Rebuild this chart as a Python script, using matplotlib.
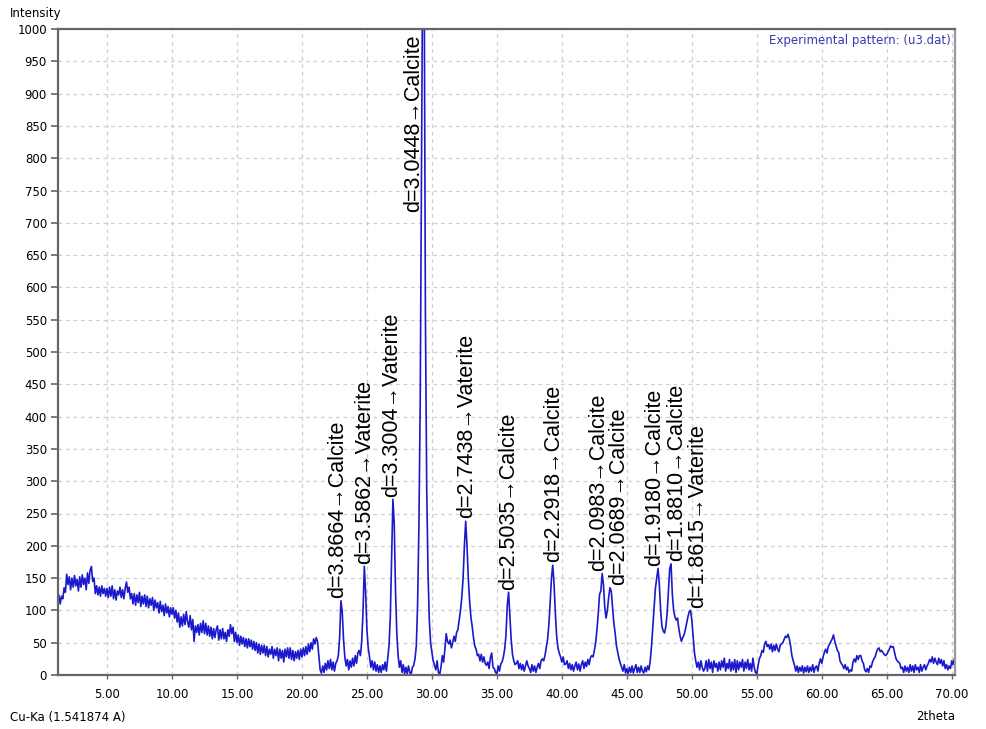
import numpy as np
import matplotlib
matplotlib.use("Agg")
from matplotlib import pyplot as plt

# 扫描起点和步长 (2theta)
start_2theta = 1.0
step_2theta = 0.1

# 强度, 每行 10 个点 = 1 度
intensity = [
    108, 120, 112, 124, 110, 122, 118, 135, 128, 156,   # 1
    140, 152, 132, 150, 136, 154, 138, 148, 130, 152,   # 2
    136, 155, 140, 150, 132, 158, 142, 162, 168, 145,   # 3
    150, 126, 138, 124, 136, 122, 138, 126, 134, 122,   # 4
    134, 120, 136, 122, 138, 118, 132, 116, 130, 124,   # 5
    136, 120, 132, 118, 134, 144, 128, 136, 118, 126,   # 6
    110, 126, 108, 124, 112, 128, 106, 122, 110, 124,   # 7
    106, 122, 104, 118, 108, 120, 100, 116, 104, 112,   # 8
    96, 114, 98, 108, 92, 110, 96, 106, 90, 104,        # 9
    94, 104, 88, 100, 82, 96, 74, 90, 76, 94,           # 10
    78, 98, 82, 74, 92, 70, 86, 52, 76, 66,             # 11
    78, 62, 80, 66, 84, 64, 80, 62, 76, 60,             # 12
    74, 56, 72, 58, 70, 76, 54, 70, 56, 72,             # 13
    56, 66, 52, 70, 60, 78, 64, 74, 52, 66,             # 14
    50, 62, 46, 60, 48, 58, 44, 56, 42, 56,             # 15
    44, 54, 40, 52, 38, 50, 34, 48, 32, 46,             # 16
    34, 46, 30, 44, 28, 40, 32, 44, 26, 40,             # 17
    30, 42, 22, 40, 26, 38, 20, 40, 28, 42,             # 18
    26, 42, 24, 38, 22, 36, 26, 38, 24, 40,             # 19
    28, 42, 30, 44, 32, 48, 36, 50, 40, 56,             # 20
    48, 58, 52, 30, 8, 3, 14, 4, 18, 8,                 # 21
    22, 10, 24, 8, 20, 6, 18, 22, 30, 58,               # 22
    115, 98, 55, 28, 14, 24, 8, 22, 12, 26,             # 23
    14, 30, 18, 34, 38, 30, 52, 98, 168, 128,           # 24
    70, 42, 28, 12, 22, 8, 20, 6, 16, 4,                # 25
    14, 4, 16, 8, 20, 6, 25, 45, 90, 185,               # 26
    272, 235, 130, 65, 30, 12, 22, 4, 16, 2,            # 27
    12, 2, 14, 4, 1, 12, 15, 25, 45, 110,               # 28
    230, 420, 780, 1150, 1120, 560, 290, 160, 85, 50,   # 29
    35, 22, 15, 8, 22, 4, 1, 12, 30, 20,                # 30
    40, 64, 52, 48, 54, 42, 50, 60, 52, 66,             # 31
    70, 85, 100, 120, 150, 200, 238, 200, 150, 115,     # 32
    90, 75, 58, 45, 40, 30, 32, 22, 32, 20,             # 33
    28, 18, 15, 20, 10, 27, 34, 12, 10, 4,              # 34
    2, 14, 6, 17, 20, 28, 40, 62, 108, 128,             # 35
    90, 55, 32, 22, 16, 18, 22, 10, 18, 8,              # 36
    16, 6, 14, 22, 14, 10, 4, 16, 6, 14,                # 37
    4, 12, 18, 10, 22, 25, 22, 30, 42, 55,              # 38
    78, 112, 150, 170, 140, 95, 60, 42, 34, 28,         # 39
    20, 28, 16, 17, 22, 10, 18, 8, 16, 6,               # 40
    14, 20, 8, 17, 6, 16, 22, 10, 20, 13,               # 41
    24, 16, 27, 30, 28, 38, 50, 70, 95, 125,            # 42
    130, 157, 140, 105, 88, 100, 120, 135, 130, 105,    # 43
    80, 65, 45, 35, 25, 18, 12, 6, 16, 3,               # 44
    10, 2, 12, 4, 14, 3, 10, 16, 4, 12,                 # 45
    4, 14, 6, 3, 12, 5, 14, 8, 22, 45,                  # 46
    75, 105, 135, 150, 165, 140, 100, 75, 68, 65,       # 47
    75, 95, 130, 165, 172, 125, 100, 90, 85, 88,        # 48
    72, 60, 52, 58, 62, 70, 80, 90, 98, 100,            # 49
    85, 60, 35, 22, 12, 20, 8, 22, 12, 6,               # 50
    10, 22, 6, 24, 10, 20, 4, 22, 12, 18,               # 51
    6, 20, 8, 22, 12, 26, 6, 18, 10, 24,                # 52
    6, 20, 8, 24, 4, 22, 8, 20, 12, 24,                 # 53
    6, 20, 10, 24, 8, 18, 6, 26, 12, 4,                 # 54
    2, 15, 25, 30, 38, 35, 48, 52, 44, 47,              # 55
    40, 48, 36, 46, 38, 48, 40, 36, 46, 48,             # 56
    50, 55, 60, 58, 63, 56, 45, 30, 22, 15,             # 57
    6, 14, 4, 12, 6, 14, 3, 12, 5, 14,                  # 58
    4, 12, 6, 16, 4, 12, 14, 6, 18, 25,                 # 59
    18, 28, 35, 40, 34, 44, 48, 52, 56, 62,             # 60
    52, 45, 38, 35, 22, 18, 15, 10, 16, 8,              # 61
    12, 4, 8, 6, 20, 25, 20, 30, 24, 30,                # 62
    30, 22, 18, 8, 5, 10, 4, 14, 12, 20,                # 63
    25, 28, 35, 40, 42, 36, 38, 35, 32, 30,             # 64
    32, 36, 40, 45, 43, 44, 35, 26, 22, 20,             # 65
    18, 10, 12, 4, 14, 6, 12, 4, 16, 6,                 # 66
    14, 4, 16, 8, 12, 4, 16, 6, 12, 16,                 # 67
    8, 14, 18, 24, 20, 28, 18, 26, 20, 16,              # 68
    26, 18, 24, 14, 22, 10, 16, 8, 14, 10,              # 69
    22, 16, 25, 20,                                     # 70
]

# 峰标注: 位置, d 值, 物相
peak_2theta = [23.05, 24.83, 27.05, 29.35, 32.65, 35.9, 39.33, 43.12,
               43.75, 47.42, 48.38, 49.88]
peak_d = ["3.8664", "3.5862", "3.3004", "3.0448", "2.7438", "2.5035",
          "2.2918", "2.0983", "2.0689", "1.9180", "1.8810", "1.8615"]
peak_phase = ["Calcite", "Vaterite", "Vaterite", "Calcite", "Vaterite",
              "Calcite", "Calcite", "Calcite", "Calcite", "Calcite",
              "Calcite", "Vaterite"]
# 标签水平微调(像素), 避免重叠
label_nudge = [-4, 0, -2, 0, 0, 0, 0, -4, 8, -4, 6, 7]

y = np.array(intensity, dtype=float)
x = start_2theta + step_2theta * np.arange(len(y))

fig = plt.figure(figsize=(9.87, 7.29), dpi=100)
ax = fig.add_axes([58 / 987, 1 - 675 / 729, (955 - 58) / 987, (675 - 29) / 729])

ax.plot(x, y, color="#1a1acc", lw=1.2)

ax.set_xlim(1.23, 70.25)
ax.set_ylim(0, 1000)
ax.set_xticks(np.arange(5, 71, 5))
ax.set_xticklabels(["%.2f" % v for v in np.arange(5, 71, 5)])
ax.set_yticks(np.arange(0, 1001, 50))

ax.grid(True, color="#cfcfcf", ls=(0, (3, 3)), lw=0.9)
ax.set_axisbelow(True)
for side in ["left", "bottom", "top", "right"]:
    ax.spines[side].set_color("#666666")
    ax.spines[side].set_linewidth(1.6)
ax.spines["right"].set_color("#999999")
ax.tick_params(axis="y", direction="out", length=5, width=1.2, color="#666666",
               labelsize=8.5, pad=3)
ax.tick_params(axis="x", direction="out", length=3, width=1.0, color="#666666",
               labelsize=8.5, pad=6)

lab_font = ["Liberation Sans", "DejaVu Sans"]
for i in range(len(peak_2theta)):
    txt = "d=" + peak_d[i] + "\u2192" + peak_phase[i]
    m = (x > peak_2theta[i] - 0.15) & (x < peak_2theta[i] + 0.15)
    top = y[m].max()
    if top > 1000:
        # 最强峰超出范围, 标签放在峰左侧并顶到上边框
        ax.annotate(txt, xy=(peak_2theta[i], 1000), xytext=(-7, -4),
                    textcoords="offset points", rotation=90, ha="center",
                    va="top", fontsize=15.5, family=lab_font)
    else:
        ax.annotate(txt, xy=(peak_2theta[i], top),
                    xytext=(label_nudge[i] * 0.72, 2),
                    textcoords="offset points", rotation=90, ha="center",
                    va="bottom", fontsize=15.5, family=lab_font)

ax.text(0.995, 0.992, "Experimental pattern: (u3.dat)", transform=ax.transAxes,
        ha="right", va="top", color="#3838b0", fontsize=8.5)

fig.text(10 / 987, 1 - 13 / 729, "Intensity", ha="left", va="center", fontsize=8.5)
fig.text(10 / 987, 1 - 717 / 729, "Cu-Ka (1.541874 A)", ha="left", va="center",
         fontsize=8.5)
fig.text(955 / 987, 1 - 717 / 729, "2theta", ha="right", va="center", fontsize=8.5)

fig.savefig("out.png", dpi=100)
